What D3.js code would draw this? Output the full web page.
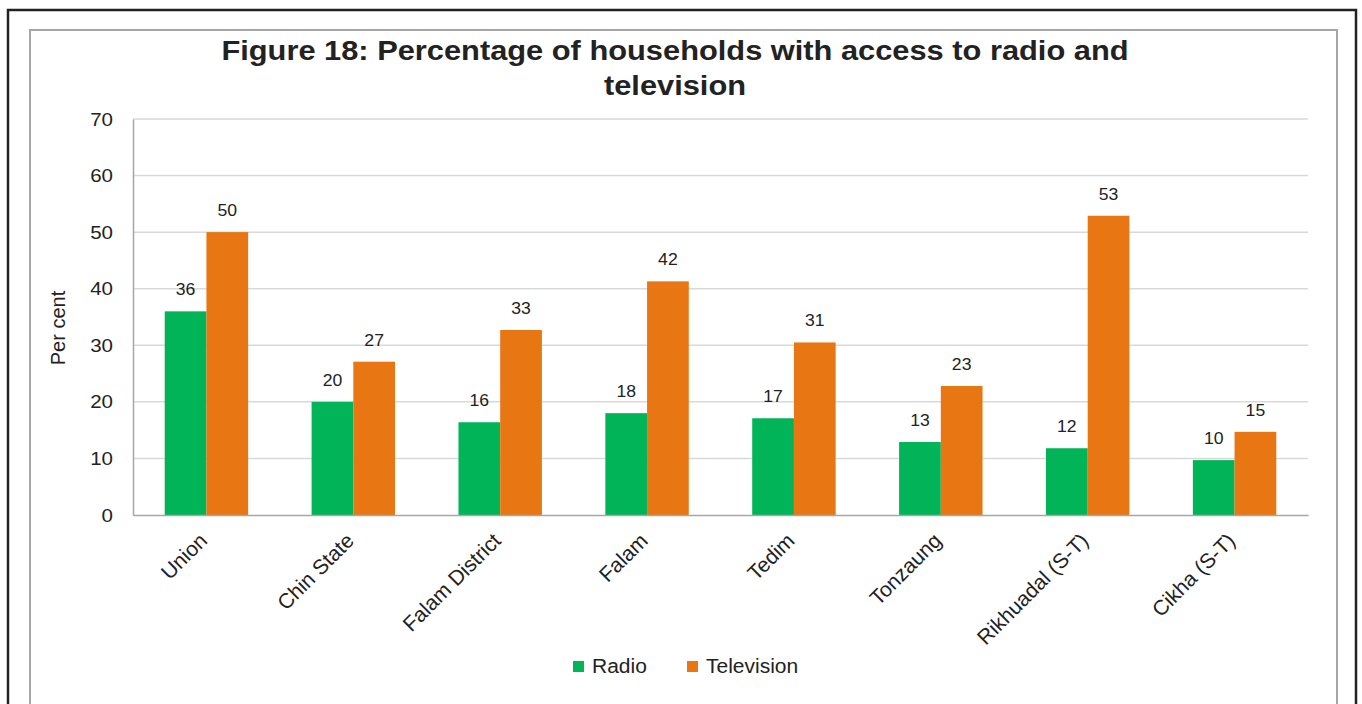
<!DOCTYPE html>
<html>
<head>
<meta charset="utf-8">
<script src="https://cdn.jsdelivr.net/npm/d3@7"></script>
<style>
  body { margin: 0; background: #fff; }
  svg text { font-family: "Liberation Sans", Arial, sans-serif; fill: #222; }
</style>
</head>
<body>
<svg id="chart"></svg>
<script>
// data
const categories = ["Union", "Chin State", "Falam District", "Falam", "Tedim", "Tonzaung", "Rikhuadal (S-T)", "Cikha (S-T)"];
const radio = [36, 20, 16.4, 18, 17.1, 12.9, 11.8, 9.7];
const television = [50, 27.1, 32.7, 41.3, 30.5, 22.8, 52.9, 14.7];
const radioLabels = [36, 20, 16, 18, 17, 13, 12, 10];
const tvLabels = [50, 27, 33, 42, 31, 23, 53, 15];
const seriesNames = ["Radio", "Television"];
const yTicks = [0, 10, 20, 30, 40, 50, 60, 70];

const colors = d3.scaleOrdinal().domain(seriesNames).range(["#00B457", "#E87612"]);

const W = 1362, H = 704;
const margin = {top: 119, left: 133, right: 54, bottom: 189};
const width = W - margin.left - margin.right;
const height = H - margin.top - margin.bottom;

// the source text looks a bit wide, stretch horizontal labels a little
function widen(sel, k) {
  sel.each(function() {
    const len = this.getComputedTextLength();
    d3.select(this).attr("textLength", len * k).attr("lengthAdjust", "spacingAndGlyphs");
  });
}

const svg = d3.select("#chart").attr("width", W).attr("height", H);

// frames
svg.append("rect").attr("x", 8).attr("y", 10).attr("width", 1348).attr("height", 720)
  .attr("fill", "none").attr("stroke", "#222").attr("stroke-width", 2.5);
svg.append("rect").attr("x", 30).attr("y", 30).attr("width", 1307).attr("height", 700)
  .attr("fill", "none").attr("stroke", "#a6a6a6").attr("stroke-width", 2);

// title
const title = svg.append("text").attr("text-anchor", "middle")
  .style("font-size", "28px").style("font-weight", "bold");
title.append("tspan").attr("x", 675).attr("y", 60).text("Figure 18: Percentage of households with access to radio and");
title.append("tspan").attr("x", 675).attr("y", 95).text("television");
widen(title.selectAll("tspan"), 1.1);

const chart = svg.append("g").attr("transform", `translate(${margin.left},${margin.top})`);

const x0 = d3.scaleBand().domain(categories).range([0, width]).paddingInner(0.432).paddingOuter(0.216);
const x1 = d3.scaleBand().domain(seriesNames).range([0, x0.bandwidth()]);
const y = d3.scaleLinear().domain([0, 70]).range([height, 0]);

// gridlines
chart.append("g").selectAll("line").data(yTicks.filter(d => d > 0)).join("line")
  .attr("x1", 0).attr("x2", width)
  .attr("y1", d => y(d)).attr("y2", d => y(d))
  .attr("stroke", "#d9d9d9").attr("stroke-width", 1.5);

// y axis
const yAxisG = chart.append("g").call(d3.axisLeft(y).tickValues(yTicks).tickSize(0).tickPadding(20));
yAxisG.select(".domain").attr("stroke", "#a6a6a6").attr("stroke-width", 1.5);
yAxisG.selectAll("text").style("font-size", "19px").attr("fill", "#222");
widen(yAxisG.selectAll("text"), 1.08);

chart.append("text")
  .attr("transform", "rotate(-90)")
  .attr("x", -209).attr("y", -68)
  .attr("text-anchor", "middle")
  .style("font-size", "20px")
  .text("Per cent");

// bars
const rows = categories.map((c, i) => ({
  cat: c,
  vals: [
    {s: "Radio", v: radio[i], lab: radioLabels[i]},
    {s: "Television", v: television[i], lab: tvLabels[i]}
  ]
}));

const groups = chart.selectAll(".grp").data(rows).join("g")
  .attr("class", "grp")
  .attr("transform", d => `translate(${x0(d.cat)},0)`);

groups.selectAll("rect").data(d => d.vals).join("rect")
  .attr("x", d => x1(d.s))
  .attr("width", x1.bandwidth())
  .attr("y", d => y(d.v))
  .attr("height", d => height - y(d.v))
  .attr("fill", d => colors(d.s));

const labels = groups.selectAll(".lbl").data(d => d.vals).join("text")
  .attr("class", "lbl")
  .attr("x", d => x1(d.s) + x1.bandwidth() / 2)
  .attr("y", d => y(d.v) - 16)
  .attr("text-anchor", "middle")
  .style("font-size", "16px")
  .text(d => d.lab);
widen(labels, 1.1);

// x axis
const xAxisG = chart.append("g").attr("transform", `translate(0,${height})`)
  .call(d3.axisBottom(x0).tickSize(0).tickPadding(0));
xAxisG.select(".domain").attr("stroke", "#a6a6a6").attr("stroke-width", 1.5);
xAxisG.selectAll("text")
  .style("font-size", "21px")
  .attr("fill", "#222")
  .attr("text-anchor", "end")
  .attr("dy", 0)
  .attr("transform", "translate(2,27) rotate(-45)");

// legend
const legend = svg.append("g").attr("transform", "translate(573,661)");
const li = legend.selectAll("g").data(seriesNames).join("g")
  .attr("transform", (d, i) => `translate(${i * 114},0)`);
li.append("rect").attr("width", 11).attr("height", 11).attr("fill", d => colors(d));
const legText = li.append("text").attr("x", 19).attr("y", 12).style("font-size", "20px").text(d => d);
widen(legText, 1.05);
</script>
</body>
</html>
